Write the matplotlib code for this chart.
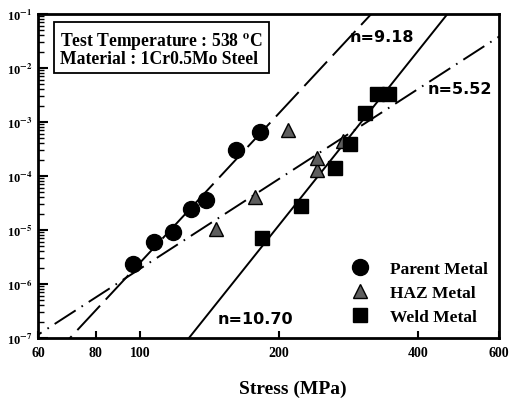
import numpy as np
import matplotlib
matplotlib.use("Agg")
import matplotlib.pyplot as plt

# creep data (stress in MPa, rate in 1/h)
parent_stress = [96.5, 107.3, 118.0, 128.7, 138.8, 160.9, 181.8]
parent_rate = [2.3e-6, 5.9e-6, 9.3e-6, 2.4e-5, 3.6e-5, 3.0e-4, 6.4e-4]

haz_stress = [145.6, 177.3, 209.5, 241.4, 242.1, 274.6]
haz_rate = [1.05e-5, 4.0e-5, 7.0e-4, 1.3e-4, 2.15e-4, 4.5e-4]

weld_stress = [183.7, 223.7, 265.1, 285.1, 307.3, 325.5, 346.3]
weld_rate = [7.0e-6, 2.8e-5, 1.4e-4, 3.9e-4, 1.45e-3, 3.3e-3, 3.3e-3]

# Norton fits: exponent n and one point on each line
parent_n, parent_ref = 9.18, (317.0, 1e-1)
haz_n, haz_ref = 5.52, (60.0, 1.15e-7)
weld_n, weld_ref = 10.70, (127.5, 1e-7)

x_ticks = [60, 80, 100, 200, 400, 600]
y_ticks = [1e-7, 1e-6, 1e-5, 1e-4, 1e-3, 1e-2, 1e-1]

plt.rcParams['font.family'] = ['Liberation Serif', 'DejaVu Serif']
plt.rcParams['font.weight'] = 'bold'
plt.rcParams['mathtext.fontset'] = 'stix'
plt.rcParams['lines.scale_dashes'] = False


def norton(x, n, ref):
    return ref[1] * (np.asarray(x) / ref[0]) ** n


fig = plt.figure(figsize=(5.09, 4.02), dpi=100)
ax = fig.add_axes([0.0747, 0.1567, 0.9057, 0.806])
ax.set_xscale('log')
ax.set_yscale('log')

xs = np.geomspace(55, 650, 200)
ax.plot(xs, norton(xs, parent_n, parent_ref), color='black', lw=1.4,
        dashes=[24, 6])
ax.plot(xs, norton(xs, haz_n, haz_ref), color='black', lw=1.4,
        dashes=[18, 5, 1.2, 5])
ax.plot(xs, norton(xs, weld_n, weld_ref), color='black', lw=1.4)

ax.plot(parent_stress, parent_rate, 'o', ms=11.5, color='black',
        label='Parent Metal')
ax.plot(haz_stress, haz_rate, '^', ms=10, mfc='#5e5e5e', mec='black',
        mew=1.0, label='HAZ Metal')
ax.plot(weld_stress, weld_rate, 's', ms=10, color='black',
        label='Weld Metal')

ax.set_xlim(60, 600)
ax.set_ylim(1e-7, 1e-1)
ax.set_xticks(x_ticks)
ax.set_xticklabels([str(t) for t in x_ticks])
ax.xaxis.set_minor_locator(matplotlib.ticker.NullLocator())
ax.set_yticks(y_ticks)
ax.set_yticklabels([r'10$^{%d}$' % int(np.log10(t)) for t in y_ticks])
ax.tick_params(axis='both', which='both', direction='in')
ax.tick_params(axis='x', labelsize=10, length=5, width=1.5, pad=6)
ax.tick_params(axis='y', which='major', labelsize=9, length=7, width=1.5, pad=4)
ax.tick_params(axis='y', which='minor', length=4, width=1.0)
for s in ax.spines.values():
    s.set_linewidth(2)

ax.set_xlabel('Stress (MPa)', fontsize=14, fontweight='bold')
ax.xaxis.set_label_coords(0.553, -0.13)

ax.text(0.047, 0.95, 'Test Temperature : 538 $^{\\mathbf{o}}$C\nMaterial : 1Cr0.5Mo Steel',
        transform=ax.transAxes, fontsize=12.7, fontweight='bold', va='top',
        ha='left', linespacing=0.92,
        bbox=dict(boxstyle='square,pad=0.35', fc='white', ec='black', lw=1.3))

lbl = dict(fontsize=11.5, fontweight='bold', family='DejaVu Sans')
ax.text(0.677, 0.93, 'n=9.18', transform=ax.transAxes, ha='left', va='center', **lbl)
ax.text(0.845, 0.77, 'n=5.52', transform=ax.transAxes, ha='left', va='center', **lbl)
ax.text(0.39, 0.06, 'n=10.70', transform=ax.transAxes, ha='left', va='center', **lbl)

ax.legend(loc='lower right', bbox_to_anchor=(0.99, 0.02), frameon=False,
          fontsize=12.5, handletextpad=1.1, labelspacing=0.45,
          borderaxespad=0.0, handlelength=1.2)

fig.savefig('out.png', dpi=100)
